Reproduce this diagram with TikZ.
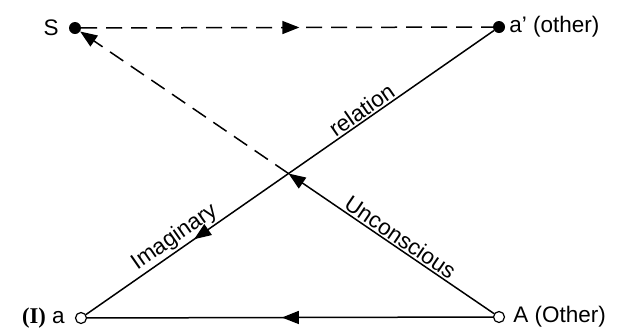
\documentclass[tikz,border=0pt]{standalone}
\usepackage{fontspec}
\setmainfont{Liberation Sans}
\newfontfamily\serifpart{Liberation Serif}
\usetikzlibrary{arrows.meta,decorations.markings}
\begin{document}
\begin{tikzpicture}[x=1pt,y=-1pt,
  lbl/.style={font=\fontsize{22.5}{24}\selectfont, inner sep=2pt},
  fulldot/.style={circle, fill=black, inner sep=0pt, minimum size=12pt},
  opendot/.style={circle, draw=black, fill=white, line width=1.2pt, inner sep=0pt, minimum size=11pt},
  conn/.style={line width=1.5pt},
  dashconn/.style={conn, dash pattern=on 16pt off 9pt},
  tri/.tip={Triangle[length=17pt,width=13pt]},
  midarrow/.style={postaction={decorate, decoration={markings, mark=at position #1 with {\arrow[solid]{tri}}}}}
]
\useasboundingbox (0,0) rectangle (624,333);
\node[fulldot] (S) at (75,28) {};
\node[fulldot] (ap) at (499,27) {};
\node[opendot] (a) at (81,318) {};
\node[opendot] (A) at (499,317) {};
\node[lbl, anchor=east] (Sl) at ([xshift=-8pt]S.west) {S};
\node[lbl, anchor=west] (apl) at ([xshift=2pt]ap.east) {a' (other)};
\node[lbl, anchor=east] (al) at ([xshift=-8pt]a.west) {{\serifpart\bfseries (I)} a};
\node[lbl, anchor=west] (Al) at ([xshift=6pt]A.east) {A (Other)};
\coordinate (X) at (intersection of ap--a and A--S);
% S to a' dashed
\draw[dashconn, midarrow=0.53] (S) -- (ap);
% a' to a (imaginary relation)
\draw[conn, midarrow=0.735] (ap) -- (a);
% A to a
\draw[conn, midarrow=0.52] (A) -- (a);
% A to S (unconscious)
\draw[conn, -{tri}] (A) -- (X);
\draw[dashconn, -{tri}] (X) -- (S);
% labels
\path (a) -- (ap) node[lbl, pos=0.69, sloped, above=0pt] {relation};
\path (a) -- (ap) node[lbl, pos=0.235, sloped, above=0pt] {Imaginary};
\path (S) -- (A) node[lbl, pos=0.76, sloped, above=0pt] {Unconscious};
\end{tikzpicture}
\end{document}
